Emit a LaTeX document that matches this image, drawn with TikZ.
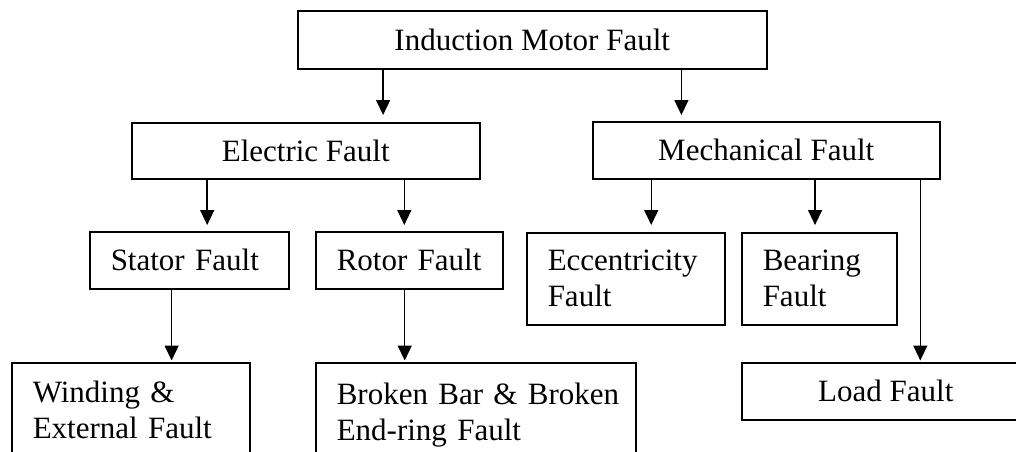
\documentclass[tikz,border=0pt]{standalone}
\usepackage{fontspec}
\setmainfont{Liberation Serif}
\usetikzlibrary{arrows.meta,calc}
\begin{document}
\begin{tikzpicture}[x=1pt,y=-1pt,
  box/.style={draw, line width=1.5pt, inner xsep=0pt, inner ysep=0pt,
    anchor=north west, font=\fontsize{31}{36}\selectfont},
  cbox/.style={box, align=center},
  lbox/.style={box, align=left, inner xsep=21pt},
  arr/.style={line width=1.5pt, -{Triangle[width=14pt,length=15pt]}}]
\useasboundingbox (0,0) rectangle (1016,451);
\fill[white] (0,0) rectangle (1016,451);
\clip (0,0) rectangle (1016,451);

% fault classification boxes
\node[cbox, minimum width=469pt, minimum height=58pt] (imf) at (297,10) {Induction Motor Fault};
\node[cbox, minimum width=348pt, minimum height=56pt] (elec) at (131,122) {Electric Fault};
\node[cbox, minimum width=347pt, minimum height=57pt] (mech) at (592,121) {Mechanical Fault};
\node[lbox, text width=157pt, minimum height=57pt] (stator) at (89,231) {\mbox{Stator Fault}};
\node[lbox, text width=145pt, minimum height=57pt] (rotor) at (315,231) {\mbox{Rotor Fault}};
\node[lbox, text width=156pt, minimum height=92pt] (ecc) at (526,232) {\mbox{Eccentricity}\\Fault};
\node[lbox, text width=113pt, minimum height=92pt] (bear) at (741,232) {Bearing\\Fault};
\node[lbox, text width=196pt, minimum height=95pt] (wind) at (11,362) {\mbox{Winding \&}\\\mbox{External Fault}};
\node[lbox, text width=278pt, minimum height=104pt] (broken) at (315,362) {\mbox{Broken Bar \& Broken}\\\mbox{End-ring Fault}};
\node[cbox, minimum width=288pt, minimum height=57pt] (load) at (741,362) {Load Fault};

% connectors
\coordinate (a1) at ($(imf.south west)!0.183!(imf.south east)$);
\coordinate (a2) at ($(imf.south west)!0.817!(imf.south east)$);
\coordinate (b1) at ($(elec.south west)!0.218!(elec.south east)$);
\coordinate (b2) at ($(elec.south west)!0.782!(elec.south east)$);
\coordinate (c1) at ($(mech.south west)!0.170!(mech.south east)$);
\coordinate (c2) at ($(mech.south west)!0.640!(mech.south east)$);
\coordinate (c3) at ($(mech.south west)!0.942!(mech.south east)$);
\coordinate (d1) at ($(stator.south west)!0.412!(stator.south east)$);
\coordinate (e1) at ($(rotor.south west)!0.476!(rotor.south east)$);

\draw[arr, shorten >=7pt] (a1) -- (a1 |- elec.north);
\draw[arr, shorten >=6pt] (a2) -- (a2 |- mech.north);
\draw[arr, shorten >=6pt] (b1) -- (b1 |- stator.north);
\draw[arr, shorten >=6pt] (b2) -- (b2 |- rotor.north);
\draw[arr, shorten >=7pt] (c1) -- (c1 |- ecc.north);
\draw[arr, shorten >=7pt] (c2) -- (c2 |- bear.north);
\draw[arr, shorten >=1.5pt] (c3) -- (c3 |- load.north);
\draw[arr, shorten >=1.5pt] (d1) -- (d1 |- wind.north);
\draw[arr, shorten >=1.5pt] (e1) -- (e1 |- broken.north);
\end{tikzpicture}
\end{document}
